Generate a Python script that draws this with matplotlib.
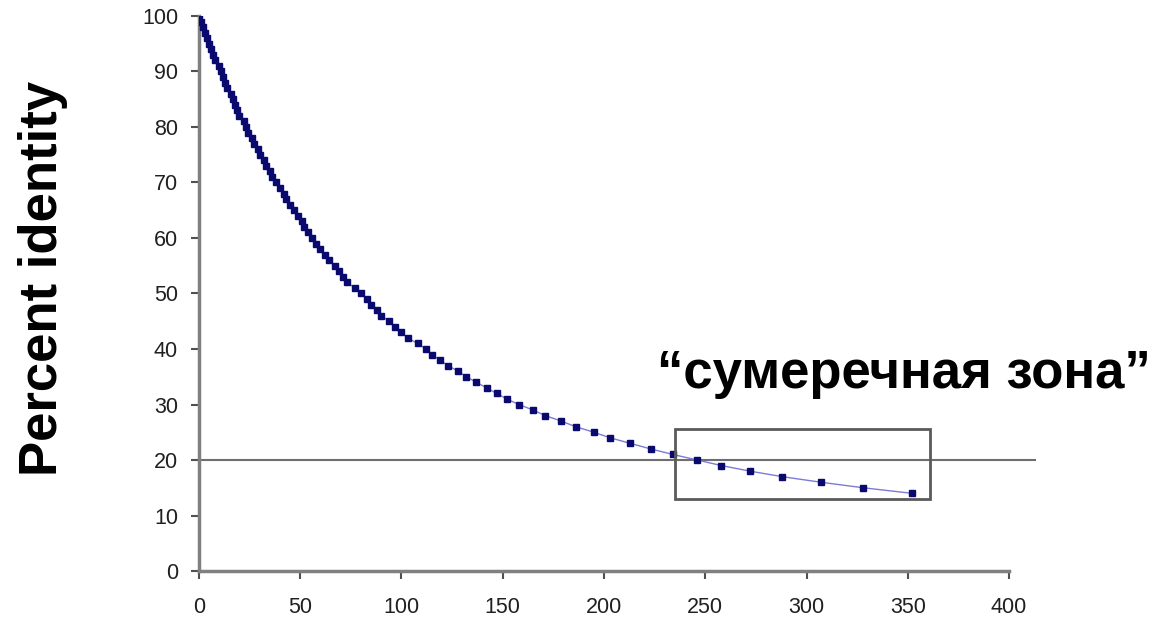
import matplotlib
matplotlib.use("Agg")
import matplotlib.pyplot as plt
from matplotlib.patches import Rectangle

plt.rcParams['font.family'] = ['Liberation Sans', 'DejaVu Sans']

# Percent identity (one point per integer percent)
identity = list(range(100, 13, -1))
# Evolutionary distance (PAM) for each identity value
pam = [0, 1, 2, 3, 4, 5, 6, 7, 8, 10,
       11, 12, 13, 14, 16, 17, 18, 19, 20, 22,
       23, 24, 26, 27, 29, 30, 32, 33, 35, 36,
       38, 40, 42, 43, 45, 47, 49, 51, 52, 54,
       56, 58, 60, 62, 64, 67, 69, 71, 73, 77,
       80, 83, 85, 88, 90, 94, 97, 100, 103, 108,
       112, 115, 119, 123, 128, 132, 137, 142, 147, 152,
       158, 165, 171, 179, 186, 195, 203, 213, 223, 234,
       246, 258, 272, 288, 307, 328, 352]

x_ticks = [0, 50, 100, 150, 200, 250, 300, 350, 400]
y_ticks = [0, 10, 20, 30, 40, 50, 60, 70, 80, 90, 100]
threshold = 20
zone_x = (235, 361)
zone_y = (13, 25.6)
zone_label = "“сумеречная зона”"
y_label = "Percent identity"

fig = plt.figure(figsize=(11.54, 6.24), dpi=100)
ax = fig.add_axes([0.1724, 0.0849, 0.702, 0.8895])

ax.plot(pam, identity, color='#7b7bd6', lw=1.0, marker='s', ms=4.8,
        mfc='#0a0a6e', mec='#0a0a6e', zorder=3)

ax.plot([0, 413], [threshold, threshold], color='#6e6e6e', lw=1.5,
        clip_on=False, zorder=2)

ax.add_patch(Rectangle((zone_x[0], zone_y[0]), zone_x[1] - zone_x[0],
                       zone_y[1] - zone_y[0], fill=False, ec='#5a5a5a',
                       lw=2, clip_on=False, zorder=4))

ax.set_xlim(0, 400)
ax.set_ylim(0, 100)
ax.set_xticks(x_ticks)
ax.set_yticks(y_ticks)
ax.tick_params(axis='both', labelsize=15.5, color='#505050', width=1.5,
               length=6, direction='out', labelcolor='#202020')
ax.tick_params(axis='x', pad=13)
ax.tick_params(axis='y', pad=9)
for s in ['top', 'right']:
    ax.spines[s].set_visible(False)
for s in ['left', 'bottom']:
    ax.spines[s].set_color('#808080')
    ax.spines[s].set_linewidth(2.5)

fig.text(0.0373, 0.554, y_label, rotation=90, fontsize=38, fontweight='bold',
         ha='center', va='center')
fig.text(0.783, 0.378, zone_label, fontsize=38, fontweight='bold',
         ha='center', va='baseline')

fig.savefig('out.png', dpi=100, facecolor='white')
